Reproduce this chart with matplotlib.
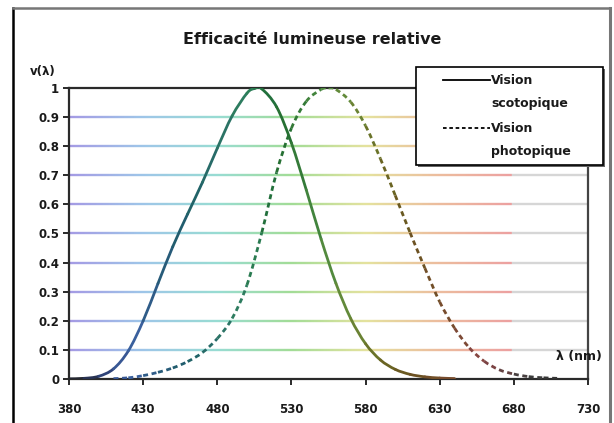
import numpy as np
import matplotlib
matplotlib.use("Agg")
import matplotlib.pyplot as plt
from matplotlib.collections import LineCollection
from matplotlib.colors import LinearSegmentedColormap
from matplotlib.lines import Line2D
from matplotlib.patches import PathPatch, Rectangle
from matplotlib.path import Path

# ---------------- data ----------------
title = "Efficacité lumineuse relative"
ylabel = "v(λ)"
xlabel = "λ (nm)"
series_names = ["Vision\nscotopique", "Vision\nphotopique"]

wl_scot = [380, 390, 400, 410, 420, 430, 440, 450, 460, 470, 480, 490, 500, 505,
           510, 520, 530, 540, 550, 560, 570, 580, 590, 600, 610, 620, 630, 640]
v_scot = [0.000589, 0.002209, 0.00929, 0.03484, 0.0966, 0.1998, 0.3281, 0.455,
          0.567, 0.676, 0.793, 0.904, 0.982, 0.998, 0.997, 0.935, 0.811, 0.650,
          0.481, 0.3288, 0.2076, 0.1212, 0.0655, 0.03315, 0.01593, 0.00737,
          0.003335, 0.001497]

wl_phot = [410, 420, 430, 440, 450, 460, 470, 480, 490, 500, 510, 520, 530, 540,
           550, 555, 560, 570, 580, 590, 600, 610, 620, 630, 640, 650, 660, 670,
           680, 690, 700, 710]
v_phot = [0.00121, 0.004, 0.0116, 0.023, 0.038, 0.06, 0.09098, 0.13902, 0.20802,
          0.323, 0.503, 0.71, 0.862, 0.954, 0.99495, 1.0, 0.995, 0.952, 0.87,
          0.757, 0.631, 0.503, 0.381, 0.265, 0.175, 0.107, 0.061, 0.032, 0.017,
          0.00821, 0.004102, 0.002091]

x_ticks = [380, 430, 480, 530, 580, 630, 680, 730]
y_ticks = [0, 0.1, 0.2, 0.3, 0.4, 0.5, 0.6, 0.7, 0.8, 0.9, 1]
y_ticklabels = ["0", "0.1", "0.2", "0.3", "0.4", "0.5", "0.6", "0.7", "0.8", "0.9", "1"]

# ---------------- style ----------------
XMIN, XMAX = 380, 730
grid_stops = [(380, '#a49ae4'), (430, '#9ec6e8'), (480, '#98dcd2'), (530, '#a2dc96'),
              (580, '#e4e29e'), (630, '#ecbc9e'), (679, '#eca0a0'), (680, '#d6d6d6'),
              (730, '#d6d6d6')]
curve_stops = [(380, '#222222'), (400, '#2a3a6a'), (420, '#3e62a4'), (440, '#2a5a7e'),
               (460, '#1e5e68'), (480, '#2a7068'), (500, '#2e805c'), (520, '#1e6a30'),
               (550, '#4a8a40'), (570, '#6a8a38'), (590, '#6a6a24'), (610, '#6a5420'),
               (640, '#7a4a30'), (660, '#884444'), (690, '#404040'), (730, '#222222')]


def make_cmap(stops):
    return LinearSegmentedColormap.from_list(
        "g", [((w - XMIN) / (XMAX - XMIN), c) for w, c in stops])


grid_cmap = make_cmap(grid_stops)
curve_cmap = make_cmap(curve_stops)


def norm(w):
    return (np.asarray(w, dtype=float) - XMIN) / (XMAX - XMIN)


FONT = ['DejaVu Sans']
plt.rcParams['font.family'] = FONT
plt.rcParams['font.weight'] = 'bold'
TXT = '#1a1a1a'

fig = plt.figure(figsize=(6.14, 4.23), dpi=100)
W, H = 614, 423


def fx(px):
    return px / W


def fy(py):
    return 1 - py / H


ax = fig.add_axes([fx(69), fy(379), (588 - 69) / W, (379 - 88) / H])
ax.set_xlim(XMIN, XMAX)
ax.set_ylim(0, 1)

# gradient gridlines
gx = np.arange(XMIN, XMAX + 1, 1.0)
for yv in y_ticks[1:-1]:
    pts = np.column_stack([gx, np.full_like(gx, yv)])
    segs = np.stack([pts[:-1], pts[1:]], axis=1)
    lc = LineCollection(segs, colors=grid_cmap(norm((gx[:-1] + gx[1:]) / 2)),
                        linewidths=1.7, zorder=1, capstyle='butt')
    ax.add_collection(lc)


def smooth_gradient_curve(wl, v, ls, cap):
    """Smoothed (Catmull-Rom as cubic Bezier) curve through the data points,
    each segment coloured by its wavelength."""
    p = np.column_stack([np.asarray(wl, float), np.asarray(v, float)])
    n = len(p)
    for i in range(n - 1):
        p0 = p[i - 1] if i > 0 else p[i]
        p1, p2 = p[i], p[i + 1]
        p3 = p[i + 2] if i + 2 < n else p[i + 1]
        c1 = p1 + (p2 - p0) / 6.0
        c2 = p2 - (p3 - p1) / 6.0
        path = Path([p1, c1, c2, p2], [Path.MOVETO, Path.CURVE4, Path.CURVE4, Path.CURVE4])
        col = curve_cmap(norm((p1[0] + p2[0]) / 2))
        patch = PathPatch(path, facecolor='none', edgecolor=col, lw=2.0,
                          linestyle=ls, capstyle=cap, zorder=3)
        ax.add_patch(patch)


smooth_gradient_curve(wl_scot, v_scot, 'solid', 'round')
smooth_gradient_curve(wl_phot, v_phot, (0, (1.8, 1.3)), 'butt')

# spines
for s in ['left', 'bottom', 'top', 'right']:
    ax.spines[s].set_color('#2a2a2a')
    ax.spines[s].set_linewidth(1.6)
ax.spines['right'].set_color('#444444')

ax.set_xticks(x_ticks)
ax.set_xticklabels([str(t) for t in x_ticks])
ax.set_yticks(y_ticks)
ax.set_yticklabels(y_ticklabels)
ax.tick_params(axis='x', direction='out', length=4, width=1.4, color='#2a2a2a',
               pad=13, labelsize=8.5, labelcolor=TXT)
ax.tick_params(axis='y', direction='out', length=4, width=1.4, color='#2a2a2a',
               pad=3, labelsize=8.5, labelcolor=TXT)
for lab in ax.get_xticklabels() + ax.get_yticklabels():
    lab.set_fontweight('bold')

fig.text(fx(312), fy(39), title, ha='center', va='center', fontsize=11.5,
         fontweight='bold', color=TXT)
fig.text(fx(43), fy(72), ylabel, ha='center', va='center', fontsize=8.5,
         fontweight='bold', color=TXT)
fig.text(fx(579), fy(356), xlabel, ha='center', va='center', fontsize=9,
         fontweight='bold', color=TXT, zorder=10)

# legend (drawn as a framed box with one sample line per series)
fig.add_artist(Rectangle((fx(418), fy(167)), (603 - 416) / W, (165 - 67) / H,
                         transform=fig.transFigure, facecolor='#666666',
                         edgecolor='none', zorder=19))
fig.add_artist(Rectangle((fx(416), fy(165)), (603 - 416) / W, (165 - 67) / H,
                         transform=fig.transFigure, facecolor='white',
                         edgecolor='black', lw=1.2, zorder=20))
legend_styles = ['-', (0, (2, 1.5))]
legend_rows = [80, 128]
for name, ls, row in zip(series_names, legend_styles, legend_rows):
    fig.add_artist(Line2D([fx(443), fx(490)], [fy(row), fy(row)],
                          transform=fig.transFigure, color='black', lw=1.3,
                          ls=ls, zorder=21))
    first, second = name.split("\n")
    fig.text(fx(491), fy(row), first, ha='left', va='center', fontsize=9,
             fontweight='bold', color=TXT, zorder=21)
    fig.text(fx(491), fy(row + 23), second, ha='left', va='center', fontsize=9,
             fontweight='bold', color=TXT, zorder=21)

# outer frame
fig.add_artist(Line2D([fx(13), fx(13)], [0, fy(8)], transform=fig.transFigure,
                      color='black', lw=1.8))
fig.add_artist(Line2D([fx(13), fx(610)], [fy(8), fy(8)], transform=fig.transFigure,
                      color='#777777', lw=1.8))
fig.add_artist(Line2D([fx(610), fx(610)], [0, fy(8)], transform=fig.transFigure,
                      color='#777777', lw=2.2))

fig.savefig("out.png", dpi=100)
